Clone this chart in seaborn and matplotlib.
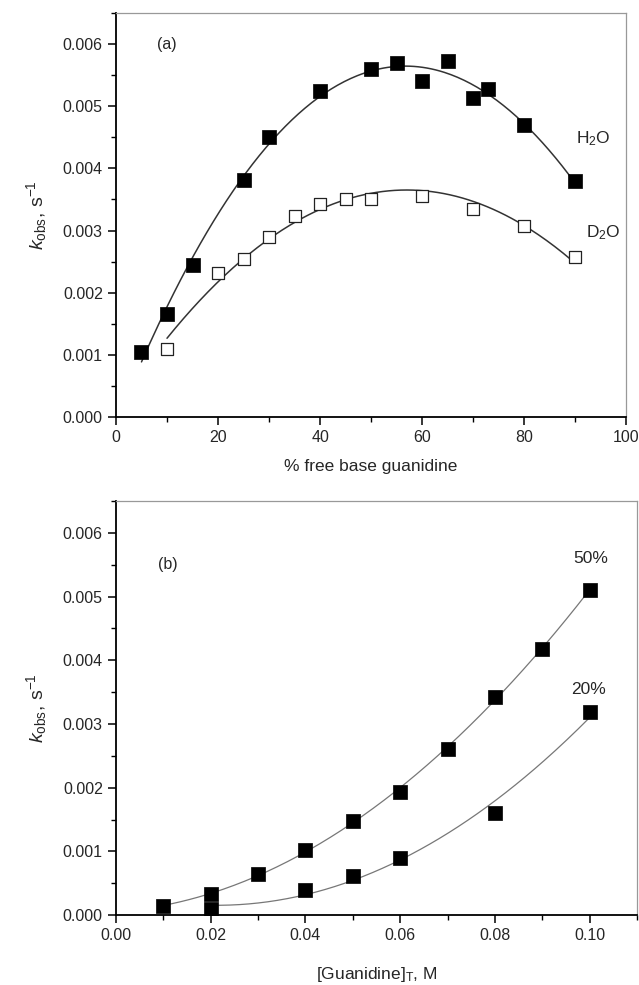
import numpy as np
import pandas as pd
import matplotlib
matplotlib.use('Agg')
import matplotlib.pyplot as plt
from matplotlib.ticker import MultipleLocator, FormatStrFormatter
import seaborn as sns

# Panel (a): k_obs vs % free base guanidine
h2o_x = [5, 10, 15, 25, 30, 40, 50, 55, 60, 65, 70, 73, 80, 90]
h2o_y = [0.00104, 0.00165, 0.00245, 0.00382, 0.00450, 0.00524, 0.00560,
         0.00570, 0.00540, 0.00573, 0.00513, 0.00528, 0.00470, 0.00379]
d2o_x = [10, 20, 25, 30, 35, 40, 45, 50, 60, 70, 80, 90]
d2o_y = [0.00110, 0.00231, 0.00255, 0.00290, 0.00324, 0.00343, 0.00350,
         0.00350, 0.00356, 0.00335, 0.00308, 0.00257]

# Panel (b): k_obs vs [Guanidine]_T
p50_x = [0.01, 0.02, 0.03, 0.04, 0.05, 0.06, 0.07, 0.08, 0.09, 0.10]
p50_y = [0.00014, 0.00033, 0.00064, 0.00102, 0.00148, 0.00193, 0.00261,
         0.00343, 0.00418, 0.00511]
p20_x = [0.02, 0.04, 0.05, 0.06, 0.08, 0.10]
p20_y = [0.00009, 0.00040, 0.00061, 0.00089, 0.00160, 0.00319]

sns.set_style('ticks')
plt.rcParams['font.family'] = ['Liberation Sans', 'DejaVu Sans']
plt.rcParams['mathtext.fontset'] = 'custom'
plt.rcParams['mathtext.it'] = 'Liberation Sans:italic'
plt.rcParams['mathtext.rm'] = 'Liberation Sans'


def fit_curve(x, y, deg=2, n=200):
    coef = np.polyfit(x, y, deg)
    xs = np.linspace(min(x), max(x), n)
    return pd.DataFrame({'x': xs, 'y': np.polyval(coef, xs)})


def style_axes(ax):
    for side in ['left', 'bottom']:
        ax.spines[side].set_color('black')
        ax.spines[side].set_linewidth(1.3)
    for side in ['top', 'right']:
        ax.spines[side].set_visible(True)
        ax.spines[side].set_color('#999999')
        ax.spines[side].set_linewidth(0.9)
    ax.tick_params(which='major', direction='out', length=6, width=1.1,
                   labelsize=11.5, top=False, right=False, color='black')
    ax.tick_params(which='minor', direction='out', length=3.5, width=1.0,
                   top=False, right=False, color='black')
    ax.yaxis.set_major_locator(MultipleLocator(0.001))
    ax.yaxis.set_minor_locator(MultipleLocator(0.0005))
    ax.yaxis.set_major_formatter(FormatStrFormatter('%.3f'))


fig = plt.figure(figsize=(6.39, 9.85), dpi=100)
ax1 = fig.add_axes([0.1815, 0.5766, 0.98 - 0.1815, 0.9868 - 0.5766])
ax2 = fig.add_axes([0.1815, 0.071, 0.997 - 0.1815, 0.4914 - 0.071])

# (a)
fa = fit_curve(h2o_x, h2o_y, deg=3)
fb = fit_curve(d2o_x, d2o_y)
sns.lineplot(data=fa, x='x', y='y', ax=ax1, color='#333333', linewidth=1.1)
sns.lineplot(data=fb, x='x', y='y', ax=ax1, color='#333333', linewidth=1.1)
sns.scatterplot(x=h2o_x, y=h2o_y, ax=ax1, marker='s', s=95, color='black',
                edgecolor='black', linewidth=0.5, zorder=3)
sns.scatterplot(x=d2o_x, y=d2o_y, ax=ax1, marker='s', s=85, color='white',
                edgecolor='#222222', linewidth=0.9, zorder=3)
ax1.set_xlim(0, 100)
ax1.set_ylim(0, 0.0065)
ax1.xaxis.set_major_locator(MultipleLocator(20))
ax1.xaxis.set_minor_locator(MultipleLocator(10))
style_axes(ax1)
ax1.set_xlabel('% free base guanidine', fontsize=12.5, labelpad=10)
ax1.set_ylabel(r'$k_{\mathrm{obs}}$, s$^{-1}$', fontsize=14, labelpad=10)
ax1.text(10, 0.0060, '(a)', fontsize=11.5, ha='center', va='center')
ax1.text(93.5, 0.00448, r'H$_2$O', fontsize=12.5, ha='center', va='center')
ax1.text(95.5, 0.00297, r'D$_2$O', fontsize=12.5, ha='center', va='center')

# (b)
f50 = fit_curve(p50_x, p50_y)
f20 = fit_curve(p20_x, p20_y)
sns.lineplot(data=f50, x='x', y='y', ax=ax2, color='#777777', linewidth=0.9)
sns.lineplot(data=f20, x='x', y='y', ax=ax2, color='#777777', linewidth=0.9)
sns.scatterplot(x=p50_x, y=p50_y, ax=ax2, marker='s', s=95, color='black',
                edgecolor='black', linewidth=0.5, zorder=3)
sns.scatterplot(x=p20_x, y=p20_y, ax=ax2, marker='s', s=95, color='black',
                edgecolor='black', linewidth=0.5, zorder=3)
ax2.set_xlim(0, 0.11)
ax2.set_ylim(0, 0.0065)
ax2.xaxis.set_major_locator(MultipleLocator(0.02))
ax2.xaxis.set_minor_locator(MultipleLocator(0.01))
style_axes(ax2)
ax2.xaxis.set_major_formatter(FormatStrFormatter('%.2f'))
ax2.set_xlabel(r'[Guanidine]$_\mathrm{T}$, M', fontsize=12.5, labelpad=16)
ax2.set_ylabel(r'$k_{\mathrm{obs}}$, s$^{-1}$', fontsize=14, labelpad=10)
ax2.text(0.011, 0.0055, '(b)', fontsize=11.5, ha='center', va='center')
ax2.text(0.1003, 0.0056, '50%', fontsize=12.5, ha='center', va='center')
ax2.text(0.0998, 0.00354, '20%', fontsize=12.5, ha='center', va='center')

fig.savefig('out.png', dpi=100)
